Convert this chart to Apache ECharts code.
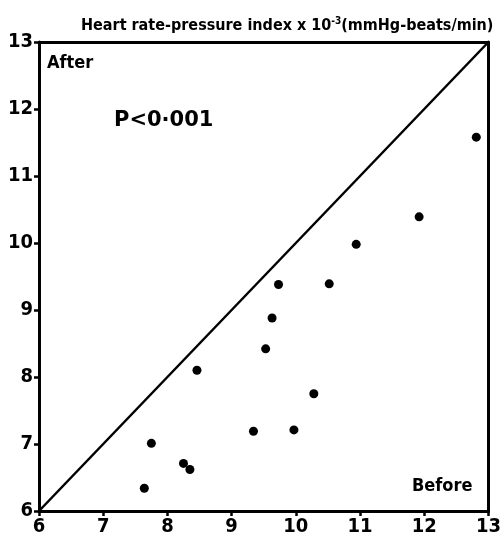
<!DOCTYPE html>
<html><head><meta charset="utf-8">
<script src="https://cdn.jsdelivr.net/npm/echarts@6/dist/echarts.min.js"></script>
<style>html,body{margin:0;padding:0;background:#fff}#c{width:504px;height:547px}</style>
</head><body><div id="c"></div>
<script>
var beforeVals = [12.81, 11.92, 10.94, 9.73, 10.52, 9.63, 9.53, 8.46, 10.28, 9.34, 9.97, 7.75, 8.25, 8.35, 7.64];
var afterVals  = [11.58, 10.39, 9.98, 9.38, 9.39, 8.88, 8.42, 8.10, 7.75, 7.19, 7.21, 7.01, 6.71, 6.62, 6.34];
var identityLine = [[6, 6], [13, 13]];
var xTicks = ['6','7','8','9','10','11','12','13'];
var yTicks = ['6','7','8','9','10','11','12','13'];

var pts = beforeVals.map(function (b, i) { return [b, afterVals[i]]; });
var F = 'DejaVu Sans';
var FC = 'DejaVu Sans Condensed';
var chart = echarts.init(document.getElementById('c'));
var axisCommon = {
  min: 6, max: 13, interval: 1,
  axisLine: { show: true, onZero: false, lineStyle: { color: '#000', width: 3 } },
  axisTick: { show: true, length: 5, lineStyle: { color: '#000', width: 2.5 } },
  splitLine: { show: false },
  axisLabel: { color: '#000', fontFamily: FC, fontSize: 20, fontWeight: 'bold' }
};
chart.setOption({
  animation: false,
  backgroundColor: '#fff',
  grid: { left: 39, right: 14, top: 42, bottom: 36, show: false },
  title: {
    text: '{a|Heart rate-pressure index x 10}{s|-3}{a|(mmHg-beats/min)}',
    left: 76, top: 11,
    textStyle: {
      rich: {
        a: { fontFamily: FC, fontSize: 16, fontWeight: 'bold', color: '#000' },
        s: { fontFamily: FC, fontSize: 10, fontWeight: 'bold', color: '#000', verticalAlign: 'top', padding: [0, 0, 10, 0] }
      }
    }
  },
  xAxis: [
    Object.assign({}, axisCommon, { type: 'value', position: 'bottom',
      axisLabel: Object.assign({}, axisCommon.axisLabel, { margin: 6, formatter: function (v) { return xTicks[v - 6]; } }) }),
    { type: 'value', position: 'top', min: 6, max: 13, axisLine: { show: true, lineStyle: { color: '#000', width: 3 } }, axisTick: { show: false }, axisLabel: { show: false }, splitLine: { show: false } }
  ],
  yAxis: [
    Object.assign({}, axisCommon, { type: 'value', position: 'left',
      axisLabel: Object.assign({}, axisCommon.axisLabel, { margin: 6, formatter: function (v) { return yTicks[v - 6]; } }) }),
    { type: 'value', position: 'right', min: 6, max: 13, axisLine: { show: true, lineStyle: { color: '#000', width: 3 } }, axisTick: { show: false }, axisLabel: { show: false }, splitLine: { show: false } }
  ],
  series: [
    { type: 'line', data: identityLine, symbol: 'none', lineStyle: { color: '#000', width: 2.5 }, silent: true },
    { type: 'scatter', data: pts, symbolSize: 9, itemStyle: { color: '#000', opacity: 1 } }
  ],
  graphic: [
    { type: 'text', left: 47, top: 54, style: { text: 'After', font: 'bold 18px "DejaVu Sans Condensed"', fill: '#000' } },
    { type: 'text', left: 412, top: 477, style: { text: 'Before', font: 'bold 18px "DejaVu Sans Condensed"', fill: '#000' } },
    { type: 'text', left: 114, top: 110, style: { text: 'P<0·001', font: 'bold 21px "DejaVu Sans"', fill: '#000' } }
  ]
});
</script></body></html>
